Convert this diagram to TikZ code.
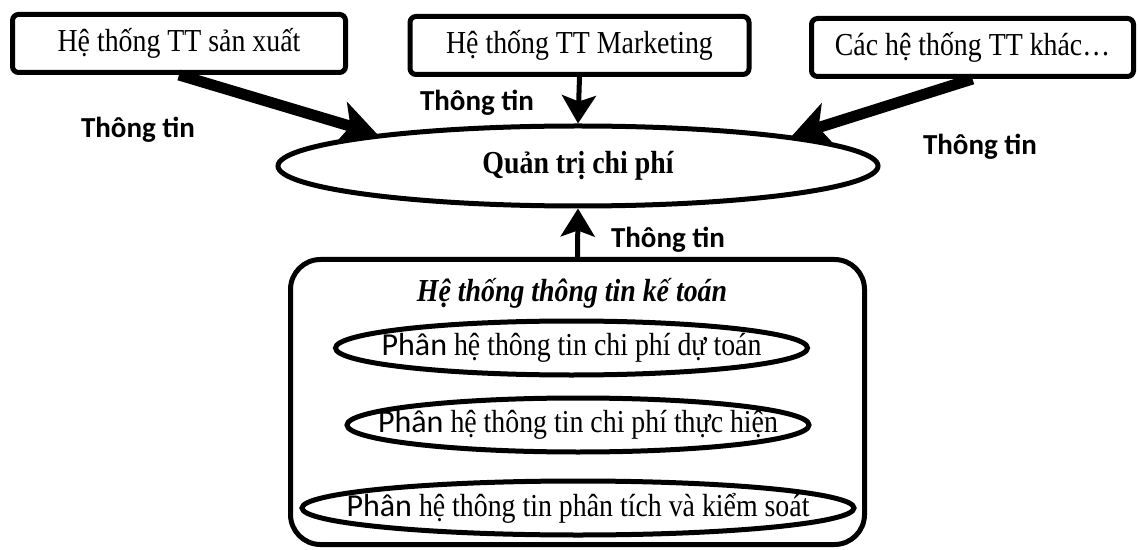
\documentclass[tikz,border=0pt]{standalone}
\usepackage{fontspec}
\setmainfont[FakeStretch=0.87]{Liberation Serif}
\newfontfamily\calib{Carlito}
\usetikzlibrary{arrows.meta,positioning,shapes.geometric}

\begin{document}
\begin{tikzpicture}[x=0.5pt,y=-0.5pt,
  sysbox/.style={draw, line width=2.5pt, rounded corners=3pt, minimum height=29pt, inner sep=0pt, font=\fontsize{16}{19}\selectfont},
  oval/.style={draw, ellipse, line width=2.5pt, inner xsep=-70pt, inner ysep=0pt, font=\fontsize{16}{19}\selectfont},
  lbl/.style={font=\fontsize{14.5}{17}\calib\bfseries},
  fatarrow/.style={line width=5.5pt, -{Stealth[length=19pt,width=22pt,inset=5pt]}},
  slimarrow/.style={line width=2.5pt, -{Stealth[length=14pt,width=17pt,inset=3pt]}}]
\useasboundingbox (0,0) rectangle (1138,550);
% top row of information systems
\foreach \n/\x/\y/\w/\t in {
  sx/179/43.5/166.5/{Hệ thống TT sản xuất},
  mk/579.5/45.5/169.5/{Hệ thống TT Marketing},
  khac/972.5/47.5/161/{Các hệ thống TT khác…}}{
  \node[sysbox, minimum width=\w pt] (\n) at (\x,\y) {\t};
}
\node[oval, inner xsep=0pt, minimum width=300pt, minimum height=40pt, font=\fontsize{16}{19}\selectfont\bfseries] (qt) at (578,166) {Quản trị chi phí};
% accounting information system
\node[draw, line width=2.5pt, rounded corners=15pt, minimum width=287pt, minimum height=142.5pt] (ktbox) at (577.5,402) {};
\node[font=\fontsize{16}{19}\selectfont\bfseries\itshape] (kttitle) at (572,293) {Hệ thống thông tin kế toán};
\foreach \n/\x/\y/\w/\t in {
  ph1/571.5/348/236/{chi phí dự toán},
  ph2/578/425/231/{chi phí thực hiện},
  ph3/578/508/276/{phân tích và kiểm soát}}{
  \node[oval, minimum width=\w pt, minimum height=27pt] (\n) at (\x,\y) {{\calib Phân} hệ thông tin \t};
}
\draw[fatarrow] (sx.south) -- (qt.171);
\draw[fatarrow] (khac.south) -- (qt.8);
\draw[slimarrow] (mk.south) -- (qt.north);
\draw[slimarrow] (ktbox.north) -- (qt.south);
\node[lbl] (tt1) at (138,130) {Thông tin};
\node[lbl] (tt2) at (477,103) {Thông tin};
\node[lbl] (tt3) at (980,147) {Thông tin};
\node[lbl] (tt4) at (668,240) {Thông tin};
\end{tikzpicture}
\end{document}
